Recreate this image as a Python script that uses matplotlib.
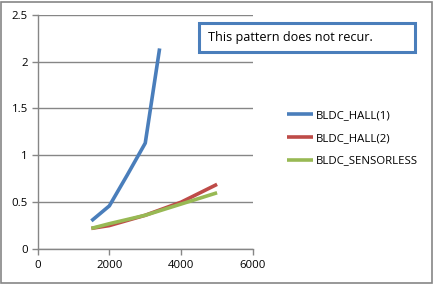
import matplotlib
matplotlib.use("Agg")
import matplotlib.pyplot as plt
from matplotlib.patches import Rectangle

# Data
hall1_x = [1500, 2000, 2500, 3000, 3400]
hall1_y = [0.30, 0.46, 0.79, 1.13, 2.14]
hall2_x = [1500, 2000, 3000, 4000, 5000]
hall2_y = [0.22, 0.25, 0.36, 0.50, 0.69]
sensorless_x = [1500, 2000, 3000, 4000, 5000]
sensorless_y = [0.22, 0.27, 0.36, 0.48, 0.60]
labels = ["BLDC_HALL(1)", "BLDC_HALL(2)", "BLDC_SENSORLESS"]
colors = ["#4A7EBB", "#BE4B48", "#98B954"]
note = "This pattern does not recur."

W, H = 433, 284
FS = 8.2
plt.rcParams["font.family"] = ["Open Sans", "DejaVu Sans"]
fig = plt.figure(figsize=(W / 100, H / 100), dpi=100)

# outer chart border
fig.patches.append(Rectangle((1 / W, 1 / H), (W - 2.5) / W, (H - 2.5) / H,
                             transform=fig.transFigure, fill=False,
                             edgecolor="#868686", linewidth=1.2))

left, right, top, bottom = 37.5, 253, 14.7, 249
ax = fig.add_axes([left / W, 1 - bottom / H, (right - left) / W, (bottom - top) / H])

lines = []
for xs, ys, lab, c in [(hall1_x, hall1_y, labels[0], colors[0]),
                       (hall2_x, hall2_y, labels[1], colors[1]),
                       (sensorless_x, sensorless_y, labels[2], colors[2])]:
    ln, = ax.plot(xs, ys, color=c, linewidth=2.6, label=lab, solid_capstyle="butt")
    lines.append(ln)

ax.set_xlim(0, 6000)
ax.set_ylim(0, 2.5)
ax.set_xticks([0, 2000, 4000, 6000])
ax.set_yticks([0, 0.5, 1, 1.5, 2, 2.5])
ax.set_yticklabels(["0", "0.5", "1", "1.5", "2", "2.5"])
ax.yaxis.grid(True, color="#868686", linewidth=1)
ax.set_axisbelow(True)
for s in ["top", "right"]:
    ax.spines[s].set_visible(False)
for s in ["left", "bottom"]:
    ax.spines[s].set_color("#868686")
    ax.spines[s].set_linewidth(1)
ax.tick_params(axis="both", colors="#868686", labelcolor="black",
               labelsize=FS, length=4, width=1)
ax.tick_params(axis="x", pad=4)
ax.tick_params(axis="y", pad=3)

# legend
leg = fig.legend(handles=lines, labels=labels, loc="upper left",
                 bbox_to_anchor=(281 / W, 1 - 104 / H), frameon=False,
                 fontsize=FS, handlelength=2.3, handletextpad=0.25,
                 labelspacing=1.05, borderpad=0)

# note box
fig.text(208 / W, 1 - 37.5 / H, note, fontsize=9.1, va="center", ha="left")
fig.patches.append(Rectangle((199 / W, 1 - 52 / H), 216 / W, 29 / H,
                             transform=fig.transFigure, fill=False,
                             edgecolor="#4A7EBB", linewidth=2.2))

fig.savefig("out.png", dpi=100)
